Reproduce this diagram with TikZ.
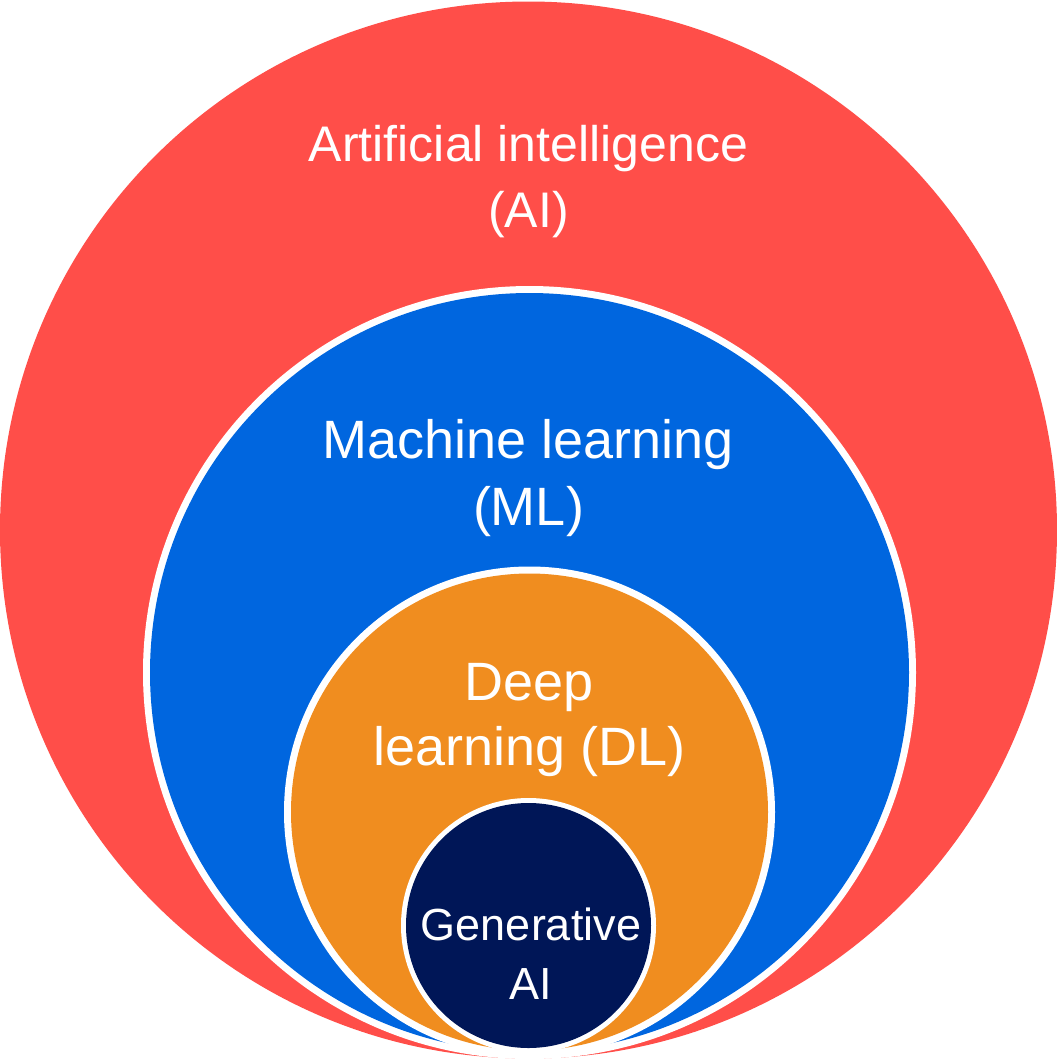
\documentclass[tikz,border=0pt]{standalone}
\usepackage{fontspec}
\setmainfont{Liberation Sans}
\definecolor{aired}{HTML}{FF4E49}
\definecolor{mlblue}{HTML}{0066DF}
\definecolor{dlorange}{HTML}{F08D1F}
\definecolor{gennavy}{HTML}{001657}
\tikzset{
  lbl/.style={text=white, anchor=base, inner sep=0pt, align=center},
}
\begin{document}
\begin{tikzpicture}[x=1pt,y=-1pt]
\useasboundingbox (0,0) rectangle (1057,1061);
% AI
\fill[aired] (528.5,530) circle (528.5);
% ML
\fill[white] (529.5,672.5) circle (386.5);
\fill[mlblue] (529.5,672.5) circle (379.5);
% DL
\fill[white] (529.5,812) circle (245.5);
\fill[dlorange] (529.5,812) circle (238.5);
% GenAI
\fill[white] (528.5,925.5) circle (127.5);
\fill[gennavy] (528.5,925.5) circle (122.5);
% labels
\node[lbl, font=\fontsize{50}{60}\selectfont] (ai1) at (528.5,161) {Artificial intelligence};
\node[lbl, font=\fontsize{50}{60}\selectfont] (ai2) at (528.5,227) {(AI)};
\node[lbl, font=\fontsize{54}{64}\selectfont] (ml1) at (528.5,458) {Machine learning};
\node[lbl, font=\fontsize{54}{64}\selectfont] (ml2) at (528.5,525) {(ML)};
\node[lbl, font=\fontsize{54}{64}\selectfont] (dl1) at (529.5,700) {Deep};
\node[lbl, font=\fontsize{54}{64}\selectfont] (dl2) at (529.5,765) {learning (DL)};
\node[lbl, font=\fontsize{45}{54}\selectfont] (g1) at (531,940) {Generative};
\node[lbl, font=\fontsize{45}{54}\selectfont] (g2) at (531,999) {AI};
\end{tikzpicture}
\end{document}
